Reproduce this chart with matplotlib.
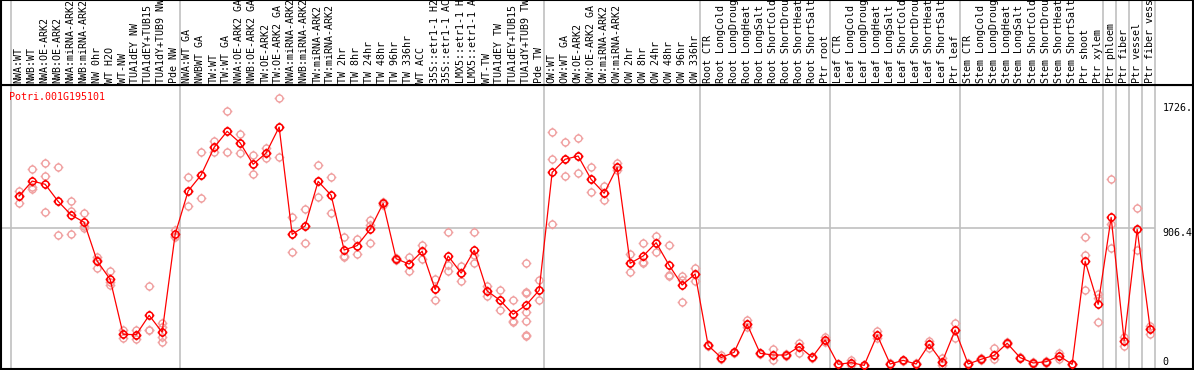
import numpy as np
import matplotlib
matplotlib.use("Agg")
import matplotlib.pyplot as plt
from matplotlib.path import Path

gene = "Potri.001G195101"

labels = [
    # NW
    "NWA:WT", "NWB:WT", "NWA:OE-ARK2", "NWB:OE-ARK2", "NWA:miRNA-ARK2", "NWB:miRNA-ARK2",
    "NW 0hr", "WT H2O", "WT-NW", "TUA1dEY NW", "TUA1dEY+TUB15 NW", "TUA1dY+TUB9 NW", "Pde NW",
    # TW
    "NWA:WT GA", "NWBWT GA", "TW:WT", "TW:WT GA", "NWA:OE-ARK2 GA", "NWB:OE-ARK2 GA",
    "TW:OE-ARK2", "TW:OE-ARK2 GA", "NWA:miRNA-ARK2 GA", "NWB:miRNA-ARK2 GA", "TW:miRNA-ARK2",
    "TW:miRNA-ARK2 GA", "TW 2hr", "TW 8hr", "TW 24hr", "TW 48hr", "TW 96hr", "TW 336hr",
    "WT ACC", "35S::etr1-1 H2O", "35S::etr1-1 ACC", "LMX5::etr1-1 H2O", "LMX5::etr1-1 ACC",
    "WT-TW", "TUA1dEY TW", "TUA1dEY+TUB15 TW", "TUA1dY+TUB9 TW", "Pde TW",
    # OW
    "OW:WT", "OW:WT GA", "OW:OE-ARK2", "OW:OE-ARK2 GA", "OW:miRNA-ARK2", "OW:miRNA-ARK2 GA",
    "OW 2hr", "OW 8hr", "OW 24hr", "OW 48hr", "OW 96hr", "OW 336hr",
    # Root
    "Root CTR", "Root LongCold", "Root LongDrought", "Root LongHeat", "Root LongSalt",
    "Root ShortCold", "Root ShortDrought", "Root ShortHeat", "Root ShortSalt", "Ptr root",
    # Leaf
    "Leaf CTR", "Leaf LongCold", "Leaf LongDrought", "Leaf LongHeat", "Leaf LongSalt",
    "Leaf ShortCold", "Leaf ShortDrought", "Leaf ShortHeat", "Leaf ShortSalt", "Ptr leaf",
    # Stem
    "Stem CTR", "Stem LongCold", "Stem LongDrought", "Stem LongHeat", "Stem LongSalt",
    "Stem ShortCold", "Stem ShortDrought", "Stem ShortHeat", "Stem ShortSalt", "Ptr shoot", "Ptr xylem",
    # single tissues
    "Ptr phloem", "Ptr fiber", "Ptr vessel", "Ptr fiber vessel",
]

# where the grey separators sit (column index)
group_breaks = [0, 13, 41, 53, 63, 73, 84, 85, 86, 87, 88]

means = [
    1114, 1212, 1191, 1079, 990, 942, 688, 568, 208, 205, 332, 221, 863,
    1147, 1252, 1433, 1538, 1462, 1322, 1396, 1566, 863, 918, 1210, 1119, 760, 789, 896,
    1066, 703, 668, 752, 502, 721, 609, 758, 492, 430, 339, 400, 496,
    1269, 1355, 1376, 1223, 1132, 1302, 673, 721, 808, 660, 531, 603,
    135, 55, 90, 273, 83, 72, 72, 127, 57, 170,
    11, 22, 4, 203, 13, 37, 13, 142, 26, 236,
    13, 44, 70, 149, 55, 20, 28, 66, 11, 686, 404,
    974, 166, 896, 245,
]

reps = [
    [1147, 1114, 1066], [1289, 1175, 1158], [1330, 1245, 1009], [1302, 1079, 859],
    [1081, 1016, 865], [1001, 920, 905], [717, 697, 645], [620, 551, 531],
    [236, 208, 181], [236, 205, 175], [522, 236, 238], [280, 255, 190, 159], [891, 855, 843],
    [1241, 1147, 1046], [1400, 1252, 1099], [1477, 1433, 1400], [1671, 1538, 1400],
    [1521, 1462, 1394], [1381, 1322, 1258], [1431, 1396, 1361], [1756, 1566, 1372],
    [977, 863, 745], [1027, 918, 804], [1317, 1210, 1105], [1236, 1119, 1001],
    [845, 720, 714], [835, 789, 734], [957, 927, 804], [1075, 1066, 1058],
    [710, 703, 696], [717, 668, 620], [793, 752, 703], [570, 502, 433],
    [876, 660, 625], [655, 609, 557], [876, 725, 673], [524, 492, 459],
    [496, 430, 367], [433, 298, 286], [677, 485, 478, 356, 295, 205, 197], [564, 496, 430],
    [1531, 1355, 928], [1466, 1355, 1243], [1492, 1376, 1265], [1302, 1223, 1138],
    [1182, 1132, 1088], [1333, 1302, 1287], [732, 673, 614], [808, 673, 680],
    [852, 808, 745], [793, 596, 590], [590, 565, 419], [645, 603, 557],
    [140, 130, 135], [72, 55, 44], [95, 85, 90], [301, 273, 258], [88, 80, 83],
    [111, 72, 42], [80, 65, 72], [148, 127, 87], [62, 52, 57], [192, 170, 160],
    [11, 8, 14], [39, 22, 7], [8, 2, 4], [231, 203, 184], [18, 10, 13],
    [42, 34, 37], [18, 10, 13], [166, 142, 116], [50, 26, 4], [280, 236, 184],
    [18, 10, 13], [50, 40, 44], [116, 70, 44], [155, 145, 149], [60, 50, 55],
    [24, 16, 20], [34, 28, 22], [87, 66, 44], [15, 8, 11], [845, 727, 496], [472, 448, 286],
    [1226, 928, 771], [190, 166, 131], [1033, 896, 760], [262, 245, 208],
]

tick_vals = [1726, 906.4]
tick_text = ["1726.", "906.4"]

# circle with four little spikes
circ = Path.unit_circle()
spikes = Path([(0, 1), (0, 1.4), (0, -1), (0, -1.4), (1, 0), (1.4, 0), (-1, 0), (-1.4, 0)],
              [Path.MOVETO, Path.LINETO] * 4)
cog = Path.make_compound_path(circ, spikes)

W, H = 1194, 370
fig = plt.figure(figsize=(W / 100, H / 100), dpi=100)

x0, x1 = 1, 1193
xmin = (x0 - 10.7) / 13
xmax = (x1 - 10.7) / 13
scale = 0.15258
ymin = (366 - 369) / scale
ymax = (366 - 85) / scale

ax = fig.add_axes([x0 / W, (H - 369) / H, (x1 - x0) / W, (369 - 85) / H])
hd = fig.add_axes([x0 / W, (H - 85) / H, (x1 - x0) / W, 85 / H])

for a in (ax, hd):
    a.set_xlim(xmin, xmax)
    a.set_xticks([])
    a.set_yticks([])
    for s in a.spines.values():
        s.set_linewidth(1.5)
        s.set_color("black")
    for b in group_breaks:
        a.axvline(b, color="#c0c0c0", lw=1.2, zorder=0)

ax.set_ylim(ymin, ymax)
hd.set_ylim(0, 1)

ax.hlines(906.4, xmin, group_breaks[-1], color="#c0c0c0", lw=1.2, zorder=0)

xs = np.arange(len(means)) + 0.65
for x, r in zip(xs, reps):
    ax.plot([x] * len(r), r, linestyle="none", marker=cog, ms=7.0,
            mfc="none", mec="#f0a0a0", mew=1.0, zorder=2)
ax.plot(xs, means, color="#ff0000", lw=0.9, zorder=3)
ax.plot(xs, means, linestyle="none", marker=cog, ms=7.0,
        mfc="none", mec="#ff0000", mew=1.1, zorder=4)

mono = "DejaVu Sans Mono"
for x, lab in zip(xs, labels):
    hd.text(x - 0.05, 0.025, lab, rotation=90, ha="center", va="bottom",
            family=mono, fontsize=7.2, clip_on=True)

ax.text(xmin + 0.6, (366 - 97) / scale, gene, color="#ff0000", family=mono,
        fontsize=7.2, ha="left", va="center")
for v, t in zip(tick_vals, tick_text):
    ax.text(88.6, v, t, family=mono, fontsize=7.2, ha="left", va="top")
ax.text(88.6, (366 - 362) / scale, "0", family=mono, fontsize=7.2, ha="left", va="center")

fig.savefig("out.png", dpi=100)
